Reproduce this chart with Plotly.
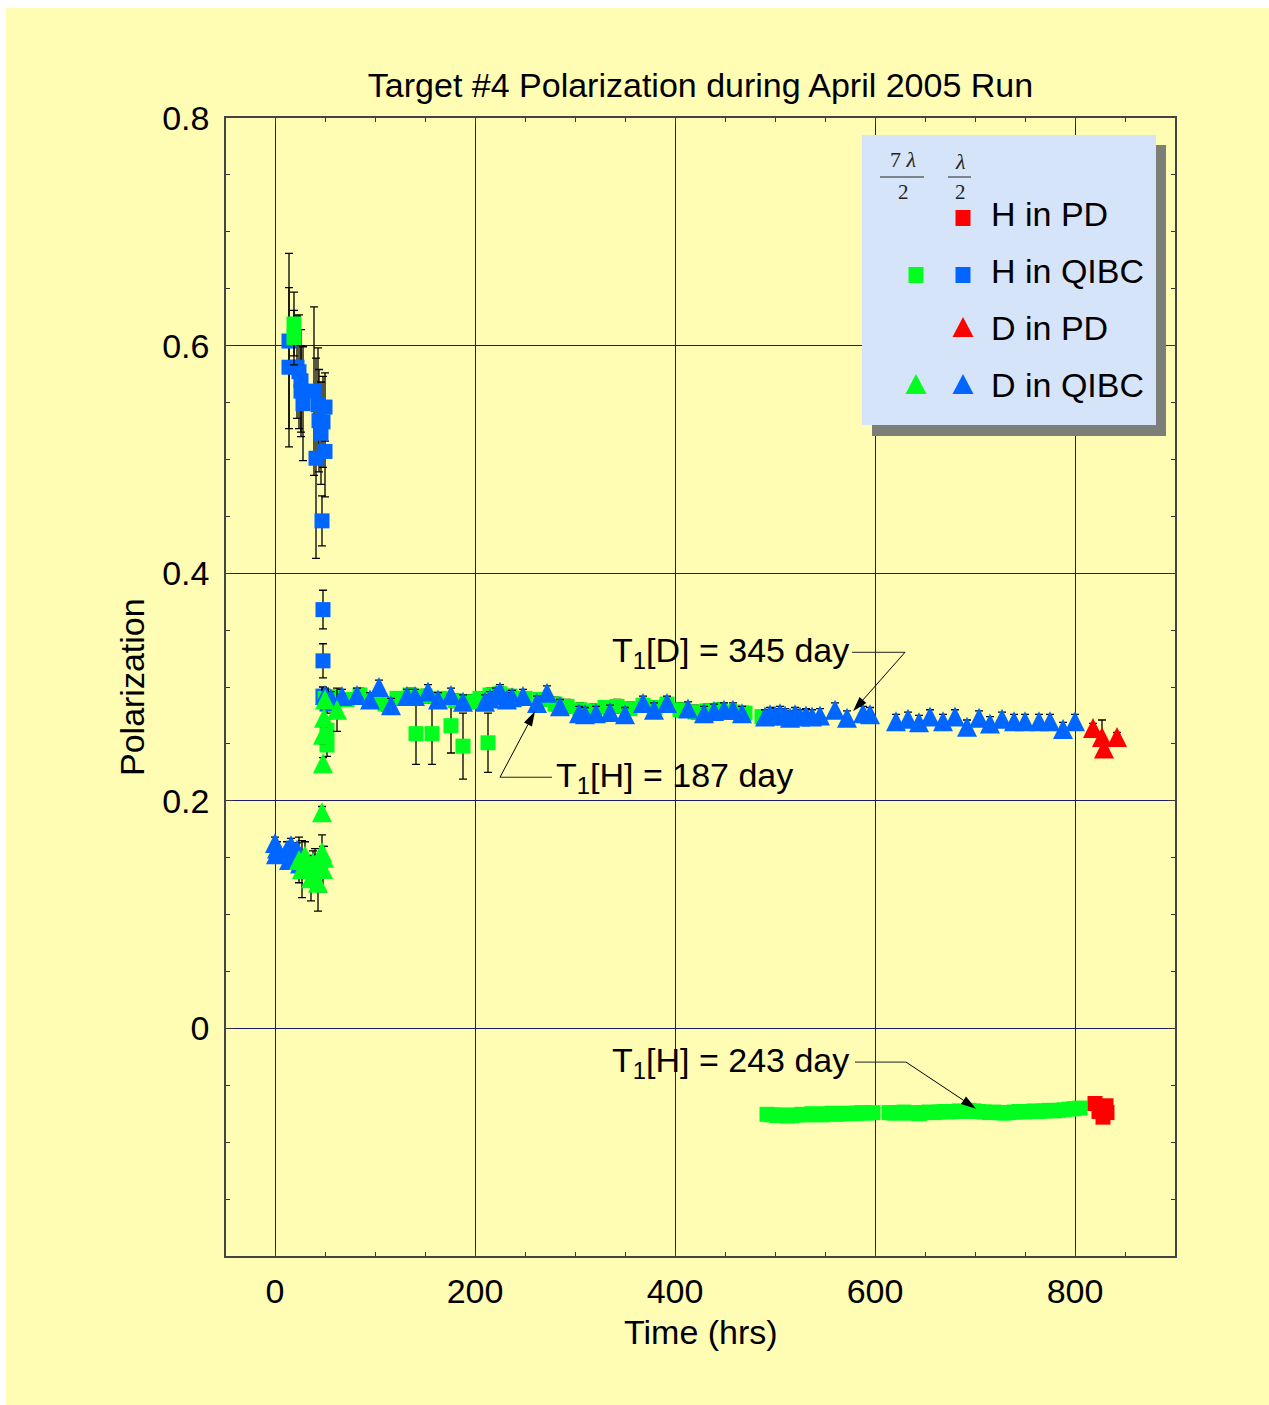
import math
import plotly.graph_objects as go

# ---------------- data ----------------
# H in QIBC, lambda/2 (blue squares)
hq_half_t = [14, 14, 22, 24, 26, 26, 28, 39, 43, 44, 50, 48, 46, 50, 41, 47, 48, 48, 48, 52]
hq_half_v = [0.604, 0.581, 0.581, 0.577, 0.569, 0.560, 0.549, 0.560, 0.548, 0.534, 0.546,
             0.533, 0.523, 0.507, 0.501, 0.446, 0.368, 0.323, 0.292, 0.285]
hq_half_e = [0.077, 0.070, 0.045, 0.050, 0.045, 0.040, 0.050, 0.074, 0.050, 0.045, 0.030,
             0.040, 0.045, 0.040, 0.088, 0.022, 0.017, 0.015, 0.008, 0.008]

# H in QIBC, 7 lambda/2 (green squares)
hq_7half_t = [19, 19, 50, 52, 52, 60, 72, 85, 97, 110, 122, 135, 150, 165, 180, 195, 205, 215, 225,
              235, 250, 265, 280, 292, 305, 318, 330, 342, 355, 368, 380, 392, 405, 420, 432,
              445, 458, 470, 487, 141, 157, 176, 188, 213]
hq_7half_v = [0.619, 0.607, 0.290, 0.262, 0.249, 0.291, 0.289, 0.293, 0.288, 0.285, 0.290, 0.293,
              0.292, 0.290, 0.288, 0.287, 0.290, 0.293, 0.294, 0.292, 0.290, 0.289, 0.285, 0.283,
              0.280, 0.279, 0.282, 0.283, 0.281, 0.284, 0.282, 0.285, 0.280, 0.278, 0.279, 0.280,
              0.278, 0.277, 0.274, 0.259, 0.259, 0.266, 0.248, 0.251]
hq_7half_e = [0.028, 0.024, 0.008, 0.010, 0.010, 0.006, 0.006, 0.006, 0.006, 0.006, 0.006, 0.006,
              0.006, 0.006, 0.006, 0.006, 0.006, 0.006, 0.006, 0.006, 0.006, 0.006, 0.006, 0.006,
              0.006, 0.006, 0.006, 0.006, 0.006, 0.006, 0.006, 0.006, 0.006, 0.006, 0.006, 0.006,
              0.006, 0.006, 0.005, 0.027, 0.027, 0.024, 0.029, 0.026]

# H in QIBC, 7 lambda/2, negative branch (green squares)
hq_neg_t = [492, 497, 502, 507, 512, 517, 522, 527, 532, 537, 542, 547, 552, 557, 562, 567, 572,
            577, 582, 587, 592, 598,
            614, 619, 624, 629, 634, 639, 644, 649, 654, 659, 664, 669, 674, 679, 684, 689, 694,
            699, 704, 709, 714, 719, 724, 729, 734, 739, 744, 749, 754, 759, 764, 769, 774, 779,
            784, 789, 794, 799, 805]
hq_neg_v = [-0.0755, -0.0760, -0.0765, -0.0760, -0.0770, -0.0765, -0.0760, -0.0755, -0.0760, -0.0750,
            -0.0755, -0.0760, -0.0750, -0.0745, -0.0755, -0.0750, -0.0745, -0.0750, -0.0745, -0.0740,
            -0.0745, -0.0740,
            -0.0740, -0.0745, -0.0740, -0.0735, -0.0745, -0.0740, -0.0750, -0.0740, -0.0735, -0.0740,
            -0.0735, -0.0730, -0.0735, -0.0730, -0.0725, -0.0730, -0.0720, -0.0725, -0.0730, -0.0735,
            -0.0740, -0.0735, -0.0740, -0.0745, -0.0740, -0.0735, -0.0730, -0.0735, -0.0730, -0.0725,
            -0.0730, -0.0725, -0.0720, -0.0725, -0.0720, -0.0715, -0.0710, -0.0705, -0.0700]

# H in PD (red squares)
hpd_t = [820, 824, 828, 831, 832]
hpd_v = [-0.066, -0.073, -0.078, -0.068, -0.074]
hpd_e = [0.003, 0.003, 0.003, 0.003, 0.003]

# D in QIBC, lambda/2 (blue triangles)
dq_half_t = [0, 1, 2, 12, 14, 16, 19, 22, 25,
             50, 56, 67, 82, 95, 104, 116, 132, 140, 153, 163, 176, 188, 210, 215, 221, 225, 232,
             237, 248, 262, 272, 285, 304, 310, 321, 335, 350, 368, 379, 392, 413, 429, 439, 449,
             458, 467, 490, 495, 500, 505, 510, 515, 520, 525, 531, 537, 545, 560, 572, 588, 595,
             621, 633, 644, 655, 668, 680, 692, 704, 715, 727, 739, 750, 764, 775, 788, 800]
dq_half_v = [0.163, 0.153, 0.158, 0.157, 0.148, 0.161, 0.151, 0.157, 0.145,
             0.293, 0.290, 0.292, 0.293, 0.289, 0.300, 0.284, 0.292, 0.292, 0.296, 0.289, 0.293,
             0.287, 0.287, 0.290, 0.293, 0.296, 0.289, 0.291, 0.292, 0.286, 0.295, 0.283, 0.277,
             0.276, 0.277, 0.278, 0.276, 0.286, 0.280, 0.286, 0.281, 0.277, 0.279, 0.280, 0.280,
             0.277, 0.274, 0.276, 0.275, 0.277, 0.275, 0.273, 0.276, 0.274, 0.275, 0.274, 0.275,
             0.280, 0.273, 0.277, 0.276,
             0.270, 0.272, 0.269, 0.274, 0.270, 0.274, 0.265, 0.273, 0.268, 0.272, 0.270, 0.270,
             0.270, 0.270, 0.263, 0.270]
dq_half_e = [0.005, 0.006, 0.006, 0.007, 0.007, 0.006, 0.008, 0.006, 0.006] + [0.006] * 68

# D in QIBC, 7 lambda/2 (green triangles)
dq_7half_t = [24, 27, 30, 36, 38, 40, 43, 47, 48, 49, 47, 48, 48, 49, 50, 62]
dq_7half_v = [0.148, 0.140, 0.152, 0.132, 0.146, 0.140, 0.128, 0.155, 0.140, 0.150,
              0.190, 0.233, 0.258, 0.273, 0.289, 0.280]
dq_7half_e = [0.020, 0.025, 0.012, 0.020, 0.010, 0.018, 0.025, 0.015, 0.020, 0.010,
              0.005, 0.005, 0.008, 0.008, 0.008, 0.019]

# D in PD (red triangles)
dpd_t = [818, 827, 829, 842]
dpd_v = [0.264, 0.256, 0.246, 0.256]
dpd_e = [0.004, 0.015, 0.005, 0.004]

# T1 callouts: label, label x, label y, anchor, leader line x0/x1, arrow head x/y, arrow tail x
t1_labels = ['T<sub>1</sub>[D] = 345 day', 'T<sub>1</sub>[H] = 187 day', 'T<sub>1</sub>[H] = 243 day']
t1_label_x = [576, 279, 576]
t1_label_y = [0.3305, 0.2207, -0.0296]
t1_anchor = ['right', 'left', 'right']
t1_line_x0 = [577, 225, 580]
t1_line_x1 = [630, 277, 631]
t1_head_x = [578, 260, 701]
t1_head_y = [0.2787, 0.2787, -0.0705]
t1_tail_x = [630, 225, 631]

# ---------------- layout helpers ----------------
W, H = 1269, 1405
ML, MR, MT, MB = 226, 94, 118, 149
PW, PH = W - ML - MR, H - MT - MB
XR = [-49, 900]
YR = [-0.2, 0.8]
XPX = PW / (XR[1] - XR[0])  # pixels per x unit
YPX = PH / (YR[1] - YR[0])  # pixels per y unit


def px(xp):
    return (xp - ML) / PW


def py(yp):
    return (H - MB - yp) / PH


TRI = 20
tri_shift = (TRI / 2) / YPX

BG = '#FFFDB4'
BLUE = '#0066FF'
GREEN = '#00FF1E'
RED = '#FF0000'
FONT = 'Liberation Sans, Arial, Helvetica, sans-serif'
FS = 34

err = lambda e: dict(type='data', array=e, color='black', thickness=1.3, width=4)

fig = go.Figure()


def squares(t, v, e, color):
    fig.add_trace(go.Scatter(x=t, y=v, mode='markers', xaxis='x', yaxis='y',
                             marker=dict(symbol='square', size=15, color=color, line=dict(width=0)),
                             error_y=err(e), showlegend=False, hoverinfo='skip'))


squares(hq_half_t, hq_half_v, hq_half_e, BLUE)
squares(hq_7half_t, hq_7half_v, hq_7half_e, GREEN)
squares(hq_neg_t, hq_neg_v, [0.003] * len(hq_neg_t), GREEN)
squares(hpd_t, hpd_v, hpd_e, RED)

# error bars of the triangles (on the main axis)
for t, v, e in [(dq_half_t, dq_half_v, dq_half_e), (dq_7half_t, dq_7half_v, dq_7half_e),
                (dpd_t, dpd_v, dpd_e)]:
    fig.add_trace(go.Scatter(x=t, y=v, mode='markers', xaxis='x', yaxis='y',
                             marker=dict(size=1, opacity=0), error_y=err(e),
                             showlegend=False, hoverinfo='skip'))

# triangles (apex-anchored symbol drawn on a shifted overlay axis so they are centred)
for t, v, c in [(dq_half_t, dq_half_v, BLUE), (dq_7half_t, dq_7half_v, GREEN), (dpd_t, dpd_v, RED)]:
    fig.add_trace(go.Scatter(x=t, y=v, mode='markers', xaxis='x', yaxis='y2',
                             marker=dict(symbol='arrow-up', size=TRI, color=c, line=dict(width=0)),
                             showlegend=False, hoverinfo='skip'))

GRID = '#1c1c66'
axis_common = dict(showgrid=True, gridcolor=GRID, gridwidth=1, zeroline=False,
                   showline=True, linecolor='#444444', linewidth=1.5, mirror='ticks',
                   ticks='inside', ticklen=7, tickcolor='#333333', tickwidth=1.2,
                   tickfont=dict(family=FONT, size=FS, color='black'))

fig.update_layout(
    width=W, height=H,
    margin=dict(l=ML, r=MR, t=MT, b=MB),
    paper_bgcolor=BG, plot_bgcolor=BG,
    font=dict(family=FONT, size=FS, color='black'),
    title=dict(text='Target #4 Polarization during April 2005 Run', x=0.5, xref='paper',
               xanchor='center', y=1 - 85 / H, yref='container', yanchor='middle',
               font=dict(family=FONT, size=FS, color='black')),
    xaxis=dict(range=XR, tickvals=[0, 200, 400, 600, 800], ticklabelstandoff=4,
               minor=dict(dtick=50, tick0=0, ticks='inside', ticklen=4, tickcolor='#333333',
                          showgrid=False),
               **axis_common),
    yaxis=dict(range=YR, tickvals=[0, 0.2, 0.4, 0.6, 0.8], ticktext=['0', '0.2', '0.4', '0.6', '0.8'],
               ticklabelstandoff=8,
               minor=dict(dtick=0.05, tick0=0, ticks='inside', ticklen=4, tickcolor='#333333',
                          showgrid=False),
               **axis_common),
    yaxis2=dict(overlaying='y', range=[YR[0] - tri_shift, YR[1] - tri_shift], visible=False,
                showgrid=False, zeroline=False),
)

shapes = []
ann = []

# white page border (top / left)
shapes.append(dict(type='rect', xref='paper', yref='paper', x0=px(-5), x1=px(6), y0=py(H + 5), y1=py(-5),
                   fillcolor='white', line=dict(width=0), layer='above'))
shapes.append(dict(type='rect', xref='paper', yref='paper', x0=px(-5), x1=px(W + 5), y0=py(8), y1=py(-5),
                   fillcolor='white', line=dict(width=0), layer='above'))

# axis titles
ann.append(dict(text='Polarization', xref='paper', yref='paper', x=px(132), y=0.5, textangle=-90,
                showarrow=False, xanchor='center', yanchor='middle', font=dict(size=FS)))
ann.append(dict(text='Time (hrs)', xref='paper', yref='paper', x=0.5, y=py(1332),
                showarrow=False, xanchor='center', yanchor='middle', font=dict(size=FS)))

# T1 callouts: label, horizontal leader, diagonal arrow with filled head
LC = '#222222'
AH_LEN, AH_HALF = 15, 4.5
for i in range(len(t1_labels)):
    ty = t1_label_y[i]
    ann.append(dict(text=t1_labels[i], x=t1_label_x[i], y=ty, xref='x', yref='y',
                    xanchor=t1_anchor[i], yanchor='middle', showarrow=False, font=dict(size=FS)))
    shapes.append(dict(type='line', xref='x', yref='y', x0=t1_line_x0[i], x1=t1_line_x1[i], y0=ty, y1=ty,
                       line=dict(color=LC, width=1)))
    hx, hy, tx = t1_head_x[i], t1_head_y[i], t1_tail_x[i]
    # direction in pixel space (y up)
    dx = (hx - tx) * XPX
    dy = (hy - ty) * YPX
    L = math.hypot(dx, dy)
    ux, uy = dx / L, dy / L
    # shaft ends where the head begins
    bx = hx - ux * AH_LEN / XPX
    by = hy - uy * AH_LEN / YPX
    shapes.append(dict(type='line', xref='x', yref='y', x0=tx, y0=ty, x1=bx, y1=by,
                       line=dict(color='black', width=1)))
    nx, ny = -uy, ux
    p1 = (-ux * AH_LEN + nx * AH_HALF, -uy * AH_LEN + ny * AH_HALF)
    p2 = (-ux * AH_LEN - nx * AH_HALF, -uy * AH_LEN - ny * AH_HALF)
    path = 'M0,0L%.2f,%.2fL%.2f,%.2fZ' % (p1[0], p1[1], p2[0], p2[1])
    shapes.append(dict(type='path', xref='x', yref='y', xsizemode='pixel', ysizemode='pixel',
                       xanchor=hx, yanchor=hy, path=path, fillcolor='black', line=dict(width=0)))

# legend box
shapes.append(dict(type='rect', xref='paper', yref='paper', x0=px(872), x1=px(1166), y0=py(436), y1=py(145),
                   fillcolor='#7B7F78', line=dict(width=0), layer='above'))
shapes.append(dict(type='rect', xref='paper', yref='paper', x0=px(862), x1=px(1156), y0=py(425), y1=py(135),
                   fillcolor='#D6E4F9', line=dict(width=0), layer='above'))

SERIF = 'Liberation Serif, DejaVu Serif, serif'
for cx, num, bx0, bx1, ny in [(903, '7 <i>λ</i>', 880, 924, 160), (960, '<i>λ</i>', 948, 971, 161)]:
    ann.append(dict(text=num, xref='paper', yref='paper', x=px(cx), y=py(ny), showarrow=False,
                    xanchor='center', yanchor='middle', font=dict(family=SERIF, size=22, color='#222')))
    ann.append(dict(text='2', xref='paper', yref='paper', x=px(cx), y=py(192), showarrow=False,
                    xanchor='center', yanchor='middle', font=dict(family=SERIF, size=21, color='#222')))
    shapes.append(dict(type='line', xref='paper', yref='paper', x0=px(bx0), x1=px(bx1), y0=py(177), y1=py(177),
                       line=dict(color='#222', width=1), layer='above'))

leg_rows = [('H in PD', 214, [(963, RED, 'sq')]),
            ('H in QIBC', 271, [(916, GREEN, 'sq'), (963, BLUE, 'sq')]),
            ('D in PD', 328, [(963, RED, 'tri')]),
            ('D in QIBC', 385, [(916, GREEN, 'tri'), (963, BLUE, 'tri')])]
for label, ry, marks in leg_rows:
    ann.append(dict(text=label, xref='paper', yref='paper', x=px(989), y=py(ry), showarrow=False,
                    xanchor='left', yanchor='middle', font=dict(size=FS)))
    for mx, col, kind in marks:
        if kind == 'sq':
            shapes.append(dict(type='rect', xref='paper', yref='paper', xsizemode='pixel', ysizemode='pixel',
                               xanchor=px(mx), yanchor=py(ry + 4), x0=-7.5, x1=7.5, y0=-8, y1=8,
                               fillcolor=col, line=dict(width=0), layer='above'))
        else:
            shapes.append(dict(type='path', xref='paper', yref='paper', xsizemode='pixel', ysizemode='pixel',
                               xanchor=px(mx), yanchor=py(ry - 1), path='M-10.5,-10L10.5,-10L0,10Z',
                               fillcolor=col, line=dict(width=0), layer='above'))

fig.update_layout(shapes=shapes, annotations=ann)
fig.write_html('out.html')
